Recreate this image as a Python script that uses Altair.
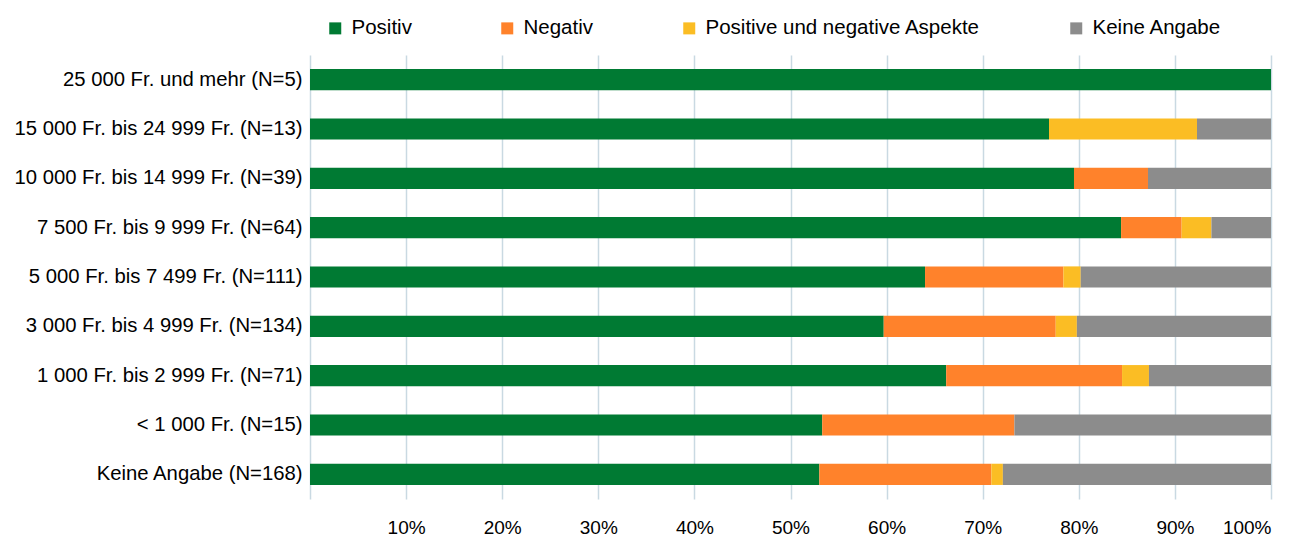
import altair as alt
import pandas as pd

categories = [
    "25 000 Fr. und mehr (N=5)",
    "15 000 Fr. bis 24 999 Fr. (N=13)",
    "10 000 Fr. bis 14 999 Fr. (N=39)",
    "7 500 Fr. bis 9 999 Fr. (N=64)",
    "5 000 Fr. bis 7 499 Fr. (N=111)",
    "3 000 Fr. bis 4 999 Fr. (N=134)",
    "1 000 Fr. bis 2 999 Fr. (N=71)",
    "< 1 000 Fr. (N=15)",
    "Keine Angabe (N=168)",
]
series = ["Positiv", "Negativ", "Positive und negative Aspekte", "Keine Angabe"]
colors = ["#007A33", "#FF822B", "#FBBD24", "#8C8C8C"]

positiv = [100.0, 76.9, 79.5, 84.4, 64.0, 59.7, 66.2, 53.3, 53.0]
negativ = [0.0, 0.0, 7.7, 6.3, 14.4, 17.9, 18.3, 20.0, 17.9]
beides = [0.0, 15.4, 0.0, 3.1, 1.8, 2.2, 2.8, 0.0, 1.2]
keine = [0.0, 7.7, 12.8, 6.2, 19.8, 20.2, 12.7, 26.7, 27.9]

tick_values = [0, 10, 20, 30, 40, 50, 60, 70, 80, 90, 100]

rows = []
for i, cat in enumerate(categories):
    for j, (name, vals) in enumerate(zip(series, [positiv, negativ, beides, keine])):
        if vals[i] > 0:
            rows.append({"Kategorie": cat, "Bewertung": name, "Anteil": vals[i], "idx": j})
df = pd.DataFrame(rows)

FONT = "Liberation Sans"

chart = (
    alt.Chart(df)
    .mark_bar()
    .encode(
        y=alt.Y(
            "Kategorie:N",
            sort=categories,
            scale=alt.Scale(paddingInner=0.57, paddingOuter=0.285),
            axis=alt.Axis(
                title=None,
                domain=False,
                ticks=False,
                grid=False,
                labelPadding=8,
                labelFontSize=20.3,
                labelFont=FONT,
                labelColor="#000000",
                labelLimit=400,
            ),
        ),
        x=alt.X(
            "Anteil:Q",
            stack="zero",
            scale=alt.Scale(domain=[0, 100], nice=False),
            axis=alt.Axis(
                title=None,
                values=tick_values,
                labelExpr="datum.value == 0 ? '' : datum.value + '%'",
                domain=False,
                ticks=False,
                grid=True,
                gridColor="#C9D9E2",
                gridWidth=1.5,
                labelPadding=19,
                labelFontSize=19,
                labelFont=FONT,
                labelColor="#000000",
            ),
        ),
        color=alt.Color(
            "Bewertung:N",
            scale=alt.Scale(domain=series, range=colors),
            legend=alt.Legend(
                title=None,
                orient="none",
                direction="horizontal",
                legendX=15,
                legendY=-37,
                symbolType="square",
                symbolSize=144,
                symbolStrokeWidth=0,
                symbolOpacity=1,
                labelFontSize=20.5,
                labelFont=FONT,
                labelColor="#000000",
                labelOffset=6,
                labelLimit=0,
                columnPadding=85,
                padding=0,
            ),
        ),
        order=alt.Order("idx:Q", sort="ascending"),
    )
    .properties(
        width=961,
        height=444,
        autosize=alt.AutoSizeParams(type="none"),
        padding={"left": 302, "top": 47, "right": 27, "bottom": 40},
    )
    .configure(
        background="#FFFFFF",
        view={"stroke": "transparent", "strokeWidth": 0},
        style={"cell": {"stroke": "transparent", "strokeWidth": 0}},
    )
)

chart.save("out.html", embed_options={"renderer": "svg", "actions": False})
